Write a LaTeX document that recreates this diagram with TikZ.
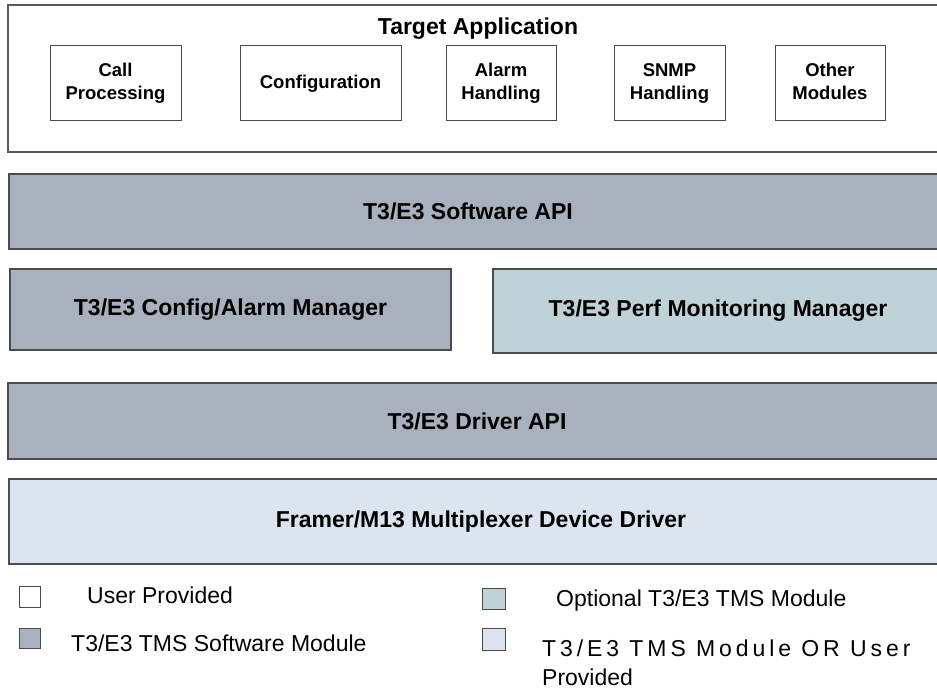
\documentclass[tikz,border=0pt]{standalone}
\usepackage{fontspec}
\setmainfont{Liberation Sans}
\usepackage{xcolor}
\usepackage{tikz}
\usetikzlibrary{positioning}

\definecolor{tmsgray}{RGB}{169,177,190}
\definecolor{optteal}{RGB}{191,210,216}
\definecolor{drvblue}{RGB}{220,228,240}

\newcommand{\layerfont}{\bfseries\fontsize{23}{27}\selectfont}
\newcommand{\modfont}{\bfseries\fontsize{18.5}{23}\selectfont}
\newcommand{\keyfont}{\fontsize{23}{29}\selectfont}

\tikzset{
  appbox/.style={draw=black!65, line width=1.3pt},
  modbox/.style={draw=black!70, line width=1pt, fill=white},
  layerbox/.style={draw=black!70, line width=1.3pt},
  keybox/.style={draw=black!70, line width=0.9pt},
  keytext/.style={inner sep=0pt, font=\keyfont}
}

\begin{document}
\begin{tikzpicture}[x=1pt, y=-1pt]
  \useasboundingbox (0,0) rectangle (937,690);

  % Target application
  \draw[appbox] (8,5) rectangle (945,152);
  \node[font=\layerfont] (tapp) at (478,29) {Target Application};
  \draw[modbox] (50,46) rectangle (181,121);
  \node[align=center, font=\modfont] (callproc) at (115.5,83.5) {Call\\Processing};
  \draw[modbox] (240,46) rectangle (401,121);
  \node[font=\modfont] (config) at (320.5,83.5) {Configuration};
  \draw[modbox] (446,46) rectangle (556,121);
  \node[align=center, font=\modfont] (alarm) at (501,83.5) {Alarm\\Handling};
  \draw[modbox] (614,46) rectangle (725,121);
  \node[align=center, font=\modfont] (snmp) at (669.5,83.5) {SNMP\\Handling};
  \draw[modbox] (775,46) rectangle (885,121);
  \node[align=center, font=\modfont] (other) at (830,83.5) {Other\\Modules\vphantom{g}};

  % Software API
  \draw[layerbox, fill=tmsgray] (9,174) rectangle (945,249);
  \node[font=\layerfont] (swapi) at (468,211.5) {T3/E3 Software API};

  % Managers
  \draw[layerbox, fill=tmsgray] (10,269) rectangle (451,350);
  \node[font=\layerfont] (cfgmgr) at (230.5,309.5) {T3/E3 Config/Alarm Manager};
  \draw[layerbox, fill=optteal] (493,269) rectangle (945,353);
  \node[font=\layerfont] (pmmgr) at (718,311) {T3/E3 Perf Monitoring Manager};

  % Driver API
  \draw[layerbox, fill=tmsgray] (8,383) rectangle (945,459);
  \node[font=\layerfont] (drvapi) at (477,421) {T3/E3 Driver API};

  % Device driver
  \draw[layerbox, fill=drvblue] (9,479) rectangle (945,564);
  \node[font=\layerfont] (devdrv) at (481,521.5) {Framer/M13 Multiplexer Device Driver};

  % Legend
  \draw[keybox, fill=white] (19,586) rectangle (40,607);
  \node[keytext, anchor=west] (keyuser) at (87,595) {User Provided};
  \draw[keybox, fill=tmsgray] (19,628) rectangle (40,648);
  \node[keytext, anchor=west] (keysw) at (71,643) {T3/E3 TMS Software Module};
  \draw[keybox, fill=optteal] (482,588) rectangle (505,609);
  \node[keytext, anchor=west] (keyopt) at (556,601) {Optional T3/E3 TMS Module};
  \draw[keybox, fill=drvblue] (482,628) rectangle (505,650);
  \node[keytext, anchor=north west, align=left] (keyor) at (542,640)
    {{\addfontfeature{LetterSpace=17}T3/E3 TMS Module OR User}\\Provided};
\end{tikzpicture}
\end{document}
